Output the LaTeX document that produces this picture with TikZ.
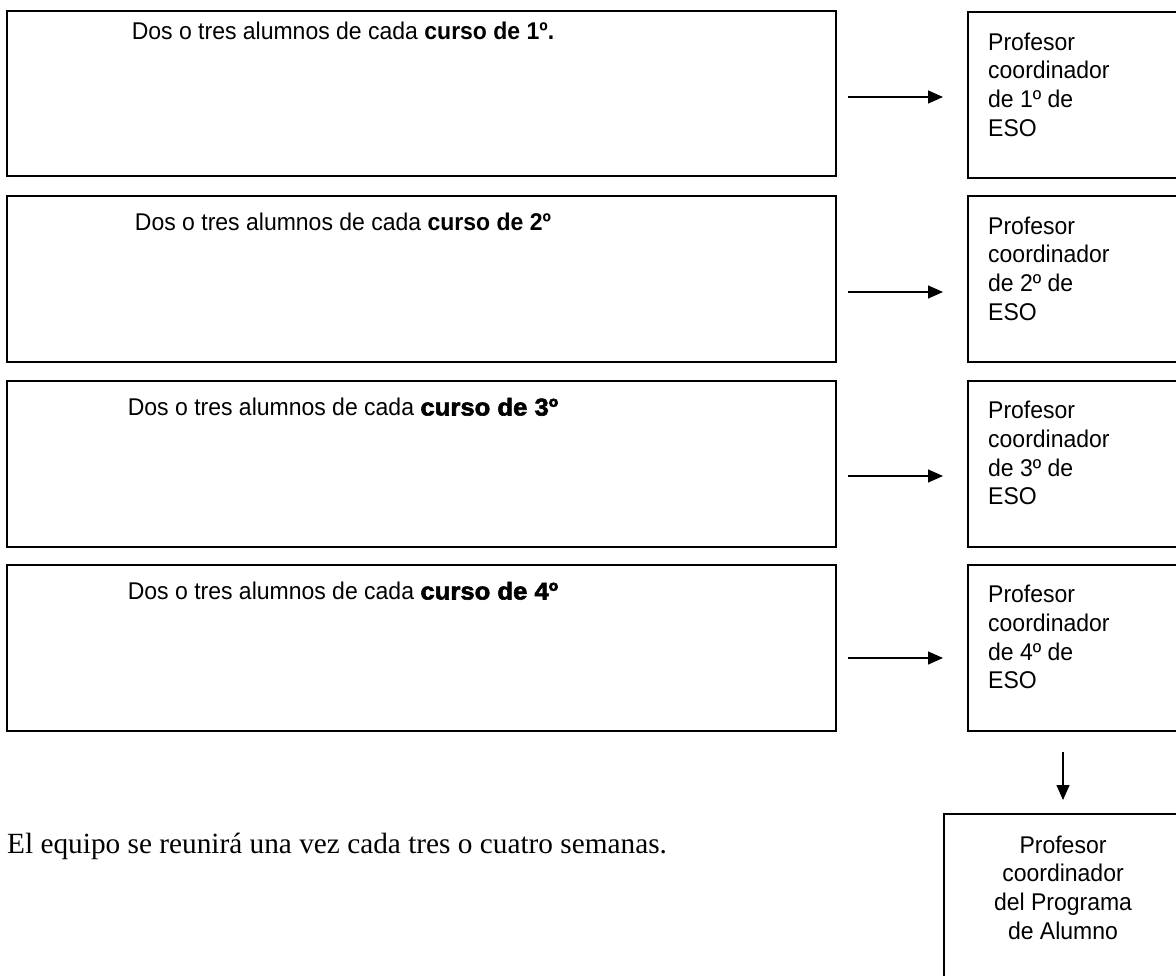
\documentclass[tikz,border=0pt]{standalone}
\usepackage{fontspec}
\setmainfont{Liberation Sans}[FakeStretch=0.95,BoldFeatures={FakeStretch=0.95}]
\newfontfamily\serifont{Liberation Serif}
\newfontfamily\blackfont{Liberation Sans}[BoldFeatures={FakeBold=2.4,FakeStretch=1.06}]
\usetikzlibrary{arrows.meta}
\begin{document}
\begin{tikzpicture}[x=1pt,y=-1pt,
  box/.style={draw, line width=2pt, inner sep=0pt, anchor=north west},
  lbox/.style={box, minimum width=829pt, minimum height=165.5pt},
  rbox/.style={box, minimum width=260pt, minimum height=165.5pt},
  bbox/.style={box, minimum width=280pt, minimum height=220pt},
  ltext/.style={font=\fontsize{24.2}{28.7}\selectfont, inner sep=0pt, anchor=base},
  rtext/.style={font=\fontsize{24.2}{28.7}\selectfont, inner sep=0pt, anchor=north west, align=left},
  ctext/.style={font=\fontsize{24.2}{28.7}\selectfont, inner sep=0pt, anchor=north, align=center},
  stext/.style={font=\serifont\fontsize{29.3}{34}\selectfont, inner sep=0pt, anchor=base west},
  arr/.style={-{Triangle[length=15pt,width=13pt]}, line width=1.4pt}
]
\useasboundingbox (0,0) rectangle (1176,976);
\clip (0,0) rectangle (1176,976);

% left boxes
\node[lbox] (l1) at (6,10) {};
\node[lbox] (l2) at (6,195.5) {};
\node[lbox] (l3) at (6,380) {};
\node[lbox] (l4) at (6,564) {};
\node[ltext] (t1) at (343,40) {Dos o tres alumnos de cada \textbf{curso de 1º.}};
\node[ltext] (t2) at (343,231) {Dos o tres alumnos de cada \textbf{curso de 2º}};
\node[ltext] (t3) at (343,415.5) {Dos o tres alumnos de cada {\blackfont\bfseries curso de 3º}};
\node[ltext] (t4) at (343,599.5) {Dos o tres alumnos de cada {\blackfont\bfseries curso de 4º}};

% right boxes
\node[rbox] (r1) at (967,11.5) {};
\node[rbox] (r2) at (967,195.5) {};
\node[rbox] (r3) at (967,380) {};
\node[rbox] (r4) at (967,564) {};
\node[rtext] (p1) at (988,32.5) {Profesor\\coordinador\\de 1º de\\ESO};
\node[rtext] (p2) at (988,216.5) {Profesor\\coordinador\\de 2º de\\ESO};
\node[rtext] (p3) at (988,401) {Profesor\\coordinador\\de 3º de\\ESO};
\node[rtext] (p4) at (988,585) {Profesor\\coordinador\\de 4º de\\ESO};

% bottom box
\node[bbox] (b) at (943,813) {};
\node[ctext] (bt) at (1063,835.5) {Profesor\\coordinador\\del Programa\\de Alumno};

% note
\node[stext] (note) at (7,853) {El equipo se reunirá una vez cada tres o cuatro semanas.};

% arrows
\coordinate (a1s) at (848,97);  \coordinate (a1e) at (943,97);
\coordinate (a2s) at (848,292); \coordinate (a2e) at (943,292);
\coordinate (a3s) at (848,476); \coordinate (a3e) at (943,476);
\coordinate (a4s) at (848,658); \coordinate (a4e) at (943,658);
\draw[arr] (a1s) -- (a1e);
\draw[arr] (a2s) -- (a2e);
\draw[arr] (a3s) -- (a3e);
\draw[arr] (a4s) -- (a4e);
\coordinate (vs) at (1063,752); \coordinate (ve) at (1063,800);
\draw[arr] (vs) -- (ve);
\end{tikzpicture}
\end{document}
